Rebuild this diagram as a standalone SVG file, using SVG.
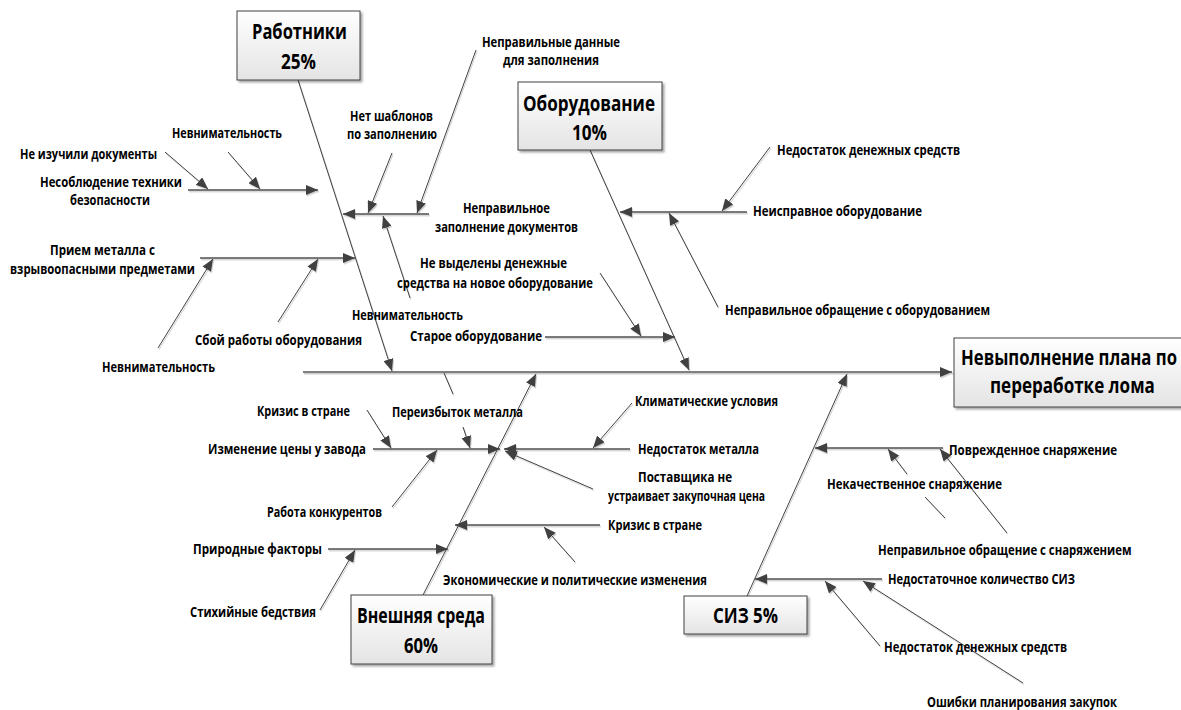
<svg xmlns="http://www.w3.org/2000/svg" width="1181" height="710" viewBox="0 0 1181 710">
<defs>
<style>
.t{font-family:'Open Sans','Noto Sans','Liberation Sans',sans-serif;font-weight:bold;font-size:14px;fill:#000}
.bt{font-family:'Open Sans','Noto Sans','Liberation Sans',sans-serif;font-weight:bold;font-size:21px;fill:#000}
.box{fill:url(#g);stroke:#404040;stroke-width:1}
.c{stroke:#404040;stroke-width:1;fill:none}
.h{stroke:#505050;stroke-width:1.3;fill:none}
.sp{stroke:#808080;stroke-width:2;fill:none}
.a{marker-end:url(#ar)}
</style>
<linearGradient id="g" x1="0" y1="0" x2="0" y2="1">
<stop offset="0" stop-color="#ffffff"/>
<stop offset="1" stop-color="#e4e4e4"/>
</linearGradient>
<filter id="sh" x="-20%" y="-20%" width="140%" height="140%">
<feDropShadow dx="2" dy="2" stdDeviation="1.2" flood-color="#000" flood-opacity="0.35"/>
</filter>
<filter id="ls" x="-5%" y="-5%" width="110%" height="110%">
<feDropShadow dx="1" dy="1.5" stdDeviation="0.6" flood-color="#000" flood-opacity="0.2"/>
</filter>
<marker id="ar" markerUnits="userSpaceOnUse" markerWidth="12" markerHeight="10" refX="12" refY="5" orient="auto">
<path d="M0,0 L12,5 L0,10 z" fill="#404040"/>
</marker>
</defs>
<rect width="1181" height="710" fill="#fff"/>

<g id="connectors" filter="url(#ls)">
<line class="sp a" x1="303" y1="372" x2="952" y2="372"/>
<line class="c a" x1="298" y1="80" x2="392" y2="371"/>
<line class="c a" x1="590" y1="150" x2="689" y2="370"/>
<line class="c a" x1="423" y1="595" x2="536" y2="374"/>
<line class="c a" x1="747" y1="596" x2="847" y2="374"/>

<line class="h a" x1="188" y1="190" x2="318" y2="190"/>
<line class="c a" x1="165" y1="152" x2="208" y2="189"/>
<line class="c a" x1="228" y1="152" x2="260" y2="189"/>

<line class="h a" x1="429" y1="214" x2="343" y2="214"/>
<line class="c a" x1="392" y1="153" x2="368" y2="213"/>
<line class="c a" x1="476" y1="50" x2="417" y2="213"/>
<line class="c a" x1="410" y1="298" x2="383" y2="216"/>

<line class="h a" x1="200" y1="258" x2="355" y2="258"/>
<line class="c a" x1="158" y1="348" x2="213" y2="259"/>
<line class="c a" x1="278" y1="322" x2="318" y2="259"/>

<line class="h a" x1="545" y1="337" x2="675" y2="337"/>
<line class="c a" x1="600" y1="273" x2="641" y2="336"/>

<line class="h a" x1="747" y1="212" x2="620" y2="212"/>
<line class="c a" x1="770" y1="147" x2="722" y2="211"/>
<line class="c a" x1="718" y1="307" x2="669" y2="213"/>

<line class="h a" x1="373" y1="449" x2="500" y2="449"/>
<line class="c a" x1="367" y1="410" x2="391" y2="448"/>
<line class="c" x1="444" y1="373" x2="453" y2="394"/>
<line class="c a" x1="463" y1="427" x2="470" y2="448"/>
<line class="c a" x1="392" y1="507" x2="437" y2="450"/>

<line class="h a" x1="630" y1="449" x2="504" y2="449"/>
<line class="c a" x1="632" y1="403" x2="593" y2="448"/>
<line class="c a" x1="593" y1="489" x2="505" y2="451"/>

<line class="h a" x1="600" y1="525" x2="455" y2="525"/>
<line class="c a" x1="575" y1="562" x2="544" y2="527"/>

<line class="h a" x1="328" y1="549" x2="448" y2="549"/>
<line class="c a" x1="320" y1="610" x2="355" y2="550"/>

<line class="h a" x1="943" y1="448" x2="815" y2="448"/>
<line class="c" x1="945" y1="518" x2="925" y2="497"/>
<line class="c a" x1="907" y1="474" x2="888" y2="449"/>
<line class="c a" x1="1007" y1="533" x2="940" y2="449"/>

<line class="h a" x1="882" y1="579" x2="755" y2="579"/>
<line class="c a" x1="880" y1="646" x2="825" y2="581"/>
<line class="c a" x1="1023" y1="683" x2="863" y2="581"/>
</g>

<g id="workers">
<rect class="box" x="237" y="11" width="123" height="69" filter="url(#sh)"/>
<text class="bt" x="252" y="39" textLength="95" lengthAdjust="spacingAndGlyphs">Работники</text>
<text class="bt" x="281" y="69" textLength="35" lengthAdjust="spacingAndGlyphs">25%</text>
</g>
<g id="equipment">
<rect class="box" x="518" y="82" width="144" height="68" filter="url(#sh)"/>
<text class="bt" x="523" y="111" textLength="132" lengthAdjust="spacingAndGlyphs">Оборудование</text>
<text class="bt" x="572" y="140" textLength="35" lengthAdjust="spacingAndGlyphs">10%</text>
</g>
<g id="head">
<rect class="box" x="954" y="338" width="236" height="69" filter="url(#sh)"/>
<text class="bt" transform="matrix(0.8 0 0 1 961 365)" x="0" y="0" textLength="270" lengthAdjust="spacingAndGlyphs">Невыполнение плана по</text>
<text class="bt" transform="matrix(0.8 0 0 1 990 393)" x="0" y="0" textLength="206" lengthAdjust="spacingAndGlyphs">переработке лома</text>
</g>
<g id="environment">
<rect class="box" x="351" y="595" width="141" height="69" filter="url(#sh)"/>
<text class="bt" x="357" y="623" textLength="128" lengthAdjust="spacingAndGlyphs">Внешняя среда</text>
<text class="bt" x="404" y="653" textLength="34" lengthAdjust="spacingAndGlyphs">60%</text>
</g>
<g id="ppe">
<rect class="box" x="684" y="596" width="123" height="38" filter="url(#sh)"/>
<text class="bt" x="713" y="623" textLength="65" lengthAdjust="spacingAndGlyphs">СИЗ 5%</text>
</g>

<g id="labels">
<text class="t" x="172" y="138" textLength="110" lengthAdjust="spacingAndGlyphs">Невнимательность</text>
<text class="t" x="20" y="159" textLength="137" lengthAdjust="spacingAndGlyphs">Не изучили документы</text>
<text class="t" x="40" y="187" textLength="142" lengthAdjust="spacingAndGlyphs">Несоблюдение техники</text>
<text class="t" x="70" y="205" textLength="80" lengthAdjust="spacingAndGlyphs">безопасности</text>
<text class="t" x="350" y="121" textLength="83" lengthAdjust="spacingAndGlyphs">Нет шаблонов</text>
<text class="t" x="347" y="139" textLength="90" lengthAdjust="spacingAndGlyphs">по заполнению</text>
<text class="t" x="482" y="47" textLength="138" lengthAdjust="spacingAndGlyphs">Неправильные данные</text>
<text class="t" x="503" y="65" textLength="96" lengthAdjust="spacingAndGlyphs">для заполнения</text>
<text class="t" x="463" y="213" textLength="87" lengthAdjust="spacingAndGlyphs">Неправильное</text>
<text class="t" x="435" y="232" textLength="143" lengthAdjust="spacingAndGlyphs">заполнение документов</text>
<text class="t" x="50" y="255" textLength="105" lengthAdjust="spacingAndGlyphs">Прием металла с</text>
<text class="t" x="10" y="274" textLength="185" lengthAdjust="spacingAndGlyphs">взрывоопасными предметами</text>
<text class="t" x="195" y="345" textLength="167" lengthAdjust="spacingAndGlyphs">Сбой работы оборудования</text>
<text class="t" x="102" y="372" textLength="113" lengthAdjust="spacingAndGlyphs">Невнимательность</text>
<text class="t" x="352" y="320" textLength="111" lengthAdjust="spacingAndGlyphs">Невнимательность</text>
<text class="t" x="420" y="268" textLength="147" lengthAdjust="spacingAndGlyphs">Не выделены денежные</text>
<text class="t" x="397" y="288" textLength="196" lengthAdjust="spacingAndGlyphs">средства на новое оборудование</text>
<text class="t" x="410" y="341" textLength="132" lengthAdjust="spacingAndGlyphs">Старое оборудование</text>
<text class="t" x="777" y="155" textLength="183" lengthAdjust="spacingAndGlyphs">Недостаток денежных средств</text>
<text class="t" x="753" y="216" textLength="169" lengthAdjust="spacingAndGlyphs">Неисправное оборудование</text>
<text class="t" x="725" y="315" textLength="265" lengthAdjust="spacingAndGlyphs">Неправильное обращение с оборудованием</text>
<text class="t" x="257" y="416" textLength="93" lengthAdjust="spacingAndGlyphs">Кризис в стране</text>
<text class="t" x="392" y="417" textLength="131" lengthAdjust="spacingAndGlyphs">Переизбыток металла</text>
<text class="t" x="208" y="454" textLength="158" lengthAdjust="spacingAndGlyphs">Изменение цены у завода</text>
<text class="t" x="267" y="517" textLength="115" lengthAdjust="spacingAndGlyphs">Работа конкурентов</text>
<text class="t" x="635" y="406" textLength="143" lengthAdjust="spacingAndGlyphs">Климатические условия</text>
<text class="t" x="638" y="454" textLength="121" lengthAdjust="spacingAndGlyphs">Недостаток металла</text>
<text class="t" x="638" y="482" textLength="94" lengthAdjust="spacingAndGlyphs">Поставщика не</text>
<text class="t" x="608" y="501" textLength="157" lengthAdjust="spacingAndGlyphs">устраивает закупочная цена</text>
<text class="t" x="608" y="530" textLength="94" lengthAdjust="spacingAndGlyphs">Кризис в стране</text>
<text class="t" x="443" y="585" textLength="264" lengthAdjust="spacingAndGlyphs">Экономические и политические изменения</text>
<text class="t" x="193" y="554" textLength="129" lengthAdjust="spacingAndGlyphs">Природные факторы</text>
<text class="t" x="190" y="617" textLength="126" lengthAdjust="spacingAndGlyphs">Стихийные бедствия</text>
<text class="t" x="949" y="455" textLength="168" lengthAdjust="spacingAndGlyphs">Поврежденное снаряжение</text>
<text class="t" x="827" y="489" textLength="175" lengthAdjust="spacingAndGlyphs">Некачественное снаряжение</text>
<text class="t" transform="matrix(0.8 0 0 1 878 555)" x="0" y="0" textLength="317" lengthAdjust="spacingAndGlyphs">Неправильное обращение с снаряжением</text>
<text class="t" x="888" y="584" textLength="187" lengthAdjust="spacingAndGlyphs">Недостаточное количество СИЗ</text>
<text class="t" x="884" y="652" textLength="183" lengthAdjust="spacingAndGlyphs">Недостаток денежных средств</text>
<text class="t" x="927" y="707" textLength="190" lengthAdjust="spacingAndGlyphs">Ошибки планирования закупок</text>
</g>
</svg>
